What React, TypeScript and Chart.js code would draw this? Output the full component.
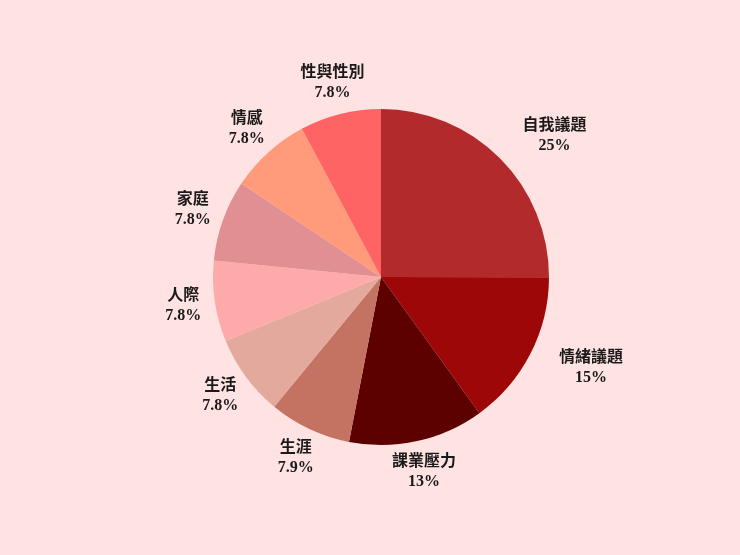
import { useEffect, useRef } from "react"
import { Chart, type ChartConfiguration, type Plugin, registerables } from "chart.js"

Chart.register(...registerables)

const categories = ["自我議題", "情緒議題", "課業壓力", "生涯", "生活", "人際", "家庭", "情感", "性與性別"]
const shares = [25, 15, 13, 7.9, 7.8, 7.8, 7.8, 7.8, 7.8]
const sliceColors = [
  "#b32a2d",
  "#9e0707",
  "#5c0000",
  "#c47262",
  "#e3a99c",
  "#ffaaaa",
  "#e08f93",
  "#ff9a7a",
  "#ff6464",
]

const FONT = "bold 16px 'Liberation Serif', 'Noto Sans CJK TC', serif"

// draws name + percent outside each slice
const outsideLabels: Plugin<"pie"> = {
  id: "outsideLabels",
  afterDatasetsDraw(chart) {
    const ctx = chart.ctx
    const meta = chart.getDatasetMeta(0)
    ctx.save()
    ctx.font = FONT
    ctx.fillStyle = "#1a1a1a"
    ctx.textBaseline = "middle"
    meta.data.forEach((el: any, i) => {
      const mid = (el.startAngle + el.endAngle) / 2
      const dist = el.outerRadius + 32
      const dx = Math.cos(mid)
      const dy = Math.sin(mid)
      const x = el.x + dx * dist
      const y = el.y + dy * dist
      ctx.textAlign = dx > 0.5 ? "left" : "center"
      const label = chart.data.labels?.[i] as string
      const value = shares[i]
      ctx.fillText(label, x, y - 10)
      const w1 = ctx.measureText(label).width
      if (dx > 0.5) {
        ctx.textAlign = "center"
        ctx.fillText(`${value}%`, x + w1 / 2, y + 10)
      } else {
        ctx.fillText(`${value}%`, x, y + 10)
      }
    })
    ctx.restore()
  },
}

export default function App() {
  const chartRef = useRef<HTMLCanvasElement>(null)
  const chartInstanceRef = useRef<Chart | null>(null)

  useEffect(() => {
    document.body.style.margin = "0"
    if (!chartRef.current) return
    const ctx = chartRef.current.getContext("2d")
    if (!ctx) return

    if (chartInstanceRef.current) {
      chartInstanceRef.current.destroy()
    }

    const config: ChartConfiguration<"pie"> = {
      type: "pie",
      data: {
        labels: categories,
        datasets: [
          {
            data: shares,
            backgroundColor: sliceColors,
            borderWidth: 0,
          },
        ],
      },
      options: {
        responsive: false,
        animation: false,
        layout: {
          padding: { left: 213, right: 191, top: 109, bottom: 110 },
        },
        plugins: {
          legend: { display: false },
          tooltip: { enabled: false },
        },
      },
      plugins: [outsideLabels],
    }

    chartInstanceRef.current = new Chart(ctx, config)

    return () => {
      if (chartInstanceRef.current) {
        chartInstanceRef.current.destroy()
        chartInstanceRef.current = null
      }
    }
  }, [])

  return (
    <div style={{ width: 740, height: 555, background: "#ffe2e2" }}>
      <canvas ref={chartRef} width={740} height={555} style={{ display: "block" }}></canvas>
    </div>
  )
}
